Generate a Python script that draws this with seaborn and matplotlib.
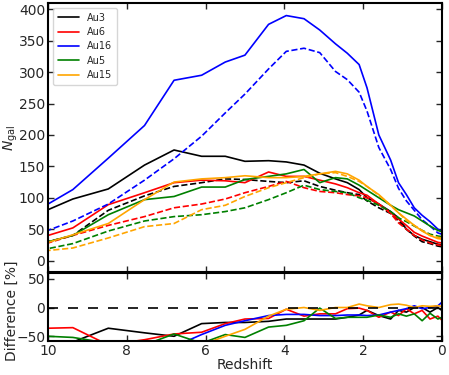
import matplotlib
matplotlib.use("Agg")
import matplotlib.pyplot as plt
import seaborn as sns
import pandas as pd

# redshift grid shared by all curves
redshift = [10, 9.37, 8.47, 7.55, 6.8, 6.1, 5.5, 5.0, 4.4, 3.95, 3.5, 3.1, 2.7,
            2.4, 2.1, 1.9, 1.6, 1.3, 1.1, 0.9, 0.7, 0.5, 0.3, 0.1, 0]

halos = ["Au3", "Au6", "Au16", "Au5", "Au15"]
colors = ["black", "red", "blue", "green", "orange"]

# N_gal, solid curves
au3_a = [81, 98, 114, 152, 176, 166, 166, 158, 159, 157, 152, 139, 130, 124, 113, 100, 90, 78, 68, 50, 40, 34, 30, 26, 25]
au6_a = [40, 52, 89, 108, 124, 128, 127, 124, 141, 134, 134, 128, 122, 116, 108, 104, 90, 76, 66, 56, 45, 39, 34, 29, 28]
au16_a = [90, 113, 163, 215, 287, 295, 316, 327, 376, 390, 385, 367, 345, 330, 312, 275, 200, 160, 124, 105, 84, 72, 62, 50, 46]
au5_a = [30, 40, 73, 97, 102, 117, 117, 129, 134, 138, 145, 124, 132, 130, 120, 112, 100, 88, 81, 76, 71, 63, 55, 48, 46]
au15_a = [29, 41, 59, 97, 125, 130, 132, 135, 132, 132, 134, 138, 142, 138, 128, 118, 105, 88, 76, 66, 56, 47, 40, 35, 34]

# N_gal, dashed curves
au3_b = [30, 40, 80, 103, 118, 124, 130, 129, 126, 124, 127, 118, 112, 108, 105, 95, 84, 75, 63, 50, 39, 30, 27, 23, 22]
au6_b = [28, 40, 56, 70, 84, 90, 98, 108, 118, 126, 116, 110, 108, 105, 103, 100, 90, 75, 60, 50, 40, 33, 28, 25, 24]
au16_b = [48, 63, 90, 128, 162, 198, 235, 265, 305, 333, 338, 331, 301, 288, 268, 238, 180, 145, 115, 95, 80, 65, 55, 44, 42]
au5_b = [19, 27, 47, 63, 70, 73, 78, 84, 97, 108, 120, 113, 110, 108, 100, 96, 88, 78, 68, 62, 55, 48, 42, 39, 38]
au15_b = [16, 20, 36, 54, 59, 81, 88, 102, 116, 124, 132, 138, 140, 134, 126, 118, 104, 88, 76, 64, 56, 48, 40, 37, 36]

# difference [%]
au3_d = [-75, -60, -36, -44, -50, -28, -26, -26, -24, -20, -20, -20, -20, -17, -13, -5, -14, -20, -5, -8, 0, 0, -8, 0, -5]
au6_d = [-36, -35, -65, -56, -46, -43, -28, -20, -19, -3, -15, -11, -11, -2, -1, -5, -17, -8, -14, -2, -11, -5, -20, -15, -22]
au16_d = [-80, -75, -70, -72, -68, -47, -31, -23, -14, -12, -12, -14, -14, -13, -13, -14, -13, -8, -5, -2, 3, -2, 0, 3, 9]
au5_d = [-50, -52, -62, -65, -46, -62, -47, -52, -34, -31, -23, -1, -19, -17, -17, -17, -13, -17, -11, -15, -11, -23, -10, -20, -17]
au15_d = [-80, -80, -80, -80, -75, -65, -50, -38, -15, -3, 0, -5, 0, 0, 6, 3, 0, 5, 6, 4, 0, 3, 2, 3, 2]

solid = [au3_a, au6_a, au16_a, au5_a, au15_a]
dashed = [au3_b, au6_b, au16_b, au5_b, au15_b]
diffs = [au3_d, au6_d, au16_d, au5_d, au15_d]

sns.set_style("ticks")
plt.rcParams["font.family"] = ["DejaVu Sans"]
plt.rcParams["font.size"] = 10

fig = plt.figure(figsize=(4.49, 3.75), dpi=100)
ax1 = fig.add_axes([0.107, 0.275, 0.877, 0.717])
ax2 = fig.add_axes([0.107, 0.091, 0.877, 0.181])

for name, col, ya, yb, yd in zip(halos, colors, solid, dashed, diffs):
    df = pd.DataFrame({"z": redshift, "a": ya, "b": yb, "d": yd})
    sns.lineplot(data=df, x="z", y="a", color=col, lw=1.2, ax=ax1, label=name, estimator=None)
    sns.lineplot(data=df, x="z", y="b", color=col, lw=1.2, ls="--", ax=ax1, estimator=None)
    sns.lineplot(data=df, x="z", y="d", color=col, lw=1.2, ax=ax2, estimator=None)

ax2.axhline(0, color="black", ls=(0, (6, 6)), lw=1.2)

ax1.set_xlim(10, 0)
ax2.set_xlim(10, 0)
ax1.set_ylim(-18, 410)
ax2.set_ylim(-58, 60)
ax1.set_yticks(range(0, 401, 50))
ax2.set_yticks([-50, 0, 50])
ax1.set_xticks([10, 8, 6, 4, 2, 0])
ax2.set_xticks([10, 8, 6, 4, 2, 0])
ax1.set_xticklabels([])

ax1.set_xlabel("")
ax1.set_ylabel(r"$N_{\rm gal}$", fontsize=10)
ax2.set_xlabel("Redshift", fontsize=10, labelpad=0)
ax2.set_ylabel("Difference [%]", fontsize=10)
ax1.yaxis.set_label_coords(-0.072, 0.5)
ax2.yaxis.set_label_coords(-0.075, 0.45)

for ax in (ax1, ax2):
    ax.tick_params(direction="in", top=True, right=True, length=4, width=1,
                   labelsize=10, pad=2)
    for sp in ax.spines.values():
        sp.set_linewidth(1.5)
        sp.set_color("black")

leg = ax1.legend(loc="upper left", fontsize=7, frameon=True, handlelength=2.2,
                 borderpad=0.5, labelspacing=0.45)
leg.get_frame().set_edgecolor("#cccccc")

fig.savefig("out.png", dpi=100)
